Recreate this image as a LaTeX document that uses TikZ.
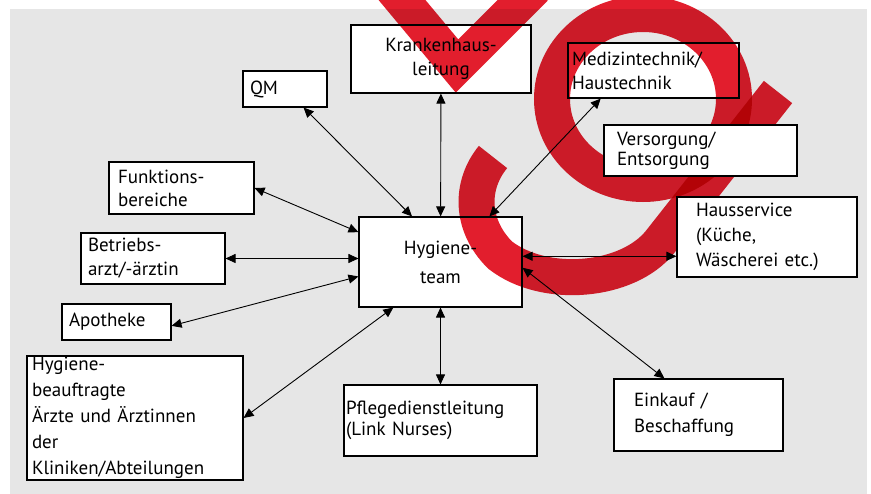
\documentclass[tikz,border=0pt]{standalone}
\usepackage{fontspec}
\setmainfont{PT Sans}
\usetikzlibrary{arrows.meta,calc}

\definecolor{panel}{RGB}{230,230,230}
\definecolor{stamp}{RGB}{226,30,45}

\newcommand{\fontlines}[1]{\fontsize{19}{#1}\selectfont}

\begin{document}
\begin{tikzpicture}[x=1pt, y=-1pt,
    unit/.style={rectangle, draw, line width=1.1pt, fill=white, align=left, inner ysep=0pt, font=\fontlines{24}},
    link/.style={{Triangle[length=10pt,width=9pt]}-{Triangle[length=10pt,width=9pt]}, line width=0.9pt},
    stampline/.style={draw=stamp, line width=36pt}]
      \useasboundingbox (0,0) rectangle (871,494);
      \fill[panel] (10,9) rectangle (867,494);

      % centre
      \node[unit, align=center, text width=155pt, inner xsep=4pt, minimum height=90pt, font=\fontlines{29}] (hub) at (440.5,262) {Hygiene-\\team};

      % upper row
      \node[unit, align=center, text width=172pt, inner xsep=4pt, minimum height=68pt] (krank) at (441,59) {Krankenhaus-\\leitung};
      \node[unit, text width=70pt, inner xsep=7pt, minimum height=36pt] (qm) at (285,89) {QM};
      \node[unit, text width=163pt, inner xsep=4pt, minimum height=55pt] (med) at (653.5,70.5) {Medizintechnik/\\Haustechnik};

      % left column
      \node[unit, text width=127pt, inner xsep=9pt, minimum height=52pt, font=\fontlines{23}] (funk) at (181.5,188) {Funktions-\\bereiche};
      \node[unit, text width=130pt, inner xsep=7pt, minimum height=51pt] (betr) at (153,258.5) {Betriebs-\\arzt/-ärztin};
      \node[unit, text width=95pt, inner xsep=7pt, minimum height=36pt] (apo) at (116.5,322) {Apotheke};
      \node[unit, text width=206pt, inner xsep=5pt, minimum height=124pt, font=\fontlines{26}] (hb) at (135,418) {Hygiene-\\beauftragte\\Ärzte~und~Ärztinnen\\der\\Kliniken/Abteilungen};

      % bottom row
      \node[unit, text width=189pt, inner xsep=2pt, minimum height=71pt, font=\fontlines{21}] (pflege) at (440.5,420.5) {Pflegedienstleitung\\(Link~Nurses)};
      \node[unit, text width=129pt, inner xsep=20pt, minimum height=72pt, font=\fontlines{26}] (eink) at (698.5,415) {Einkauf~/\\Beschaffung};

      % stamp
      \begin{scope}[blend mode=multiply]
        \clip (0,0) rectangle (871,494);
        \draw[stampline, line join=miter] (392,-12) -- (457,66) -- (535,-12);
        \draw[stampline] (643,99) ellipse [x radius=91, y radius=85];
        \draw[stampline] (778,92) -- (660,242) .. controls (628,282) and (545,290) .. (500,255) .. controls (470,225) and (470,185) .. (493,157);
      \end{scope}

      % right column
      \node[unit, text width=167pt, inner xsep=13pt, minimum height=51pt, font=\fontlines{20}] (vers) at (700.5,150.5) {Versorgung/\\Entsorgung};
      \node[unit, text width=142pt, inner xsep=19pt, minimum height=80pt, font=\fontlines{25}] (haus) at (767,237) {Hausservice\\(Küche,\\Wäscherei~etc.)};

      % links to the team
      \draw[link] (qm.-45) -- (hub.122.7);
      \draw[link] (krank) -- (hub);
      \draw[link] (med.208.6) -- (hub.43.5);
      \draw[link] (hub.4) -- (hub.4 -| haus.west);
      \draw[link] (hub.-4) -- (eink.133);
      \draw[link] (hub) -- (pflege);
      \draw[link] (hb.east) -- (hub.224);
      \draw[link] (apo.-4) -- (hub.190.8);
      \draw[link] (betr.east) -- (betr.east -| hub.west);
      \draw[link] (funk.east) -- (hub.160.6);
\end{tikzpicture}
\end{document}
